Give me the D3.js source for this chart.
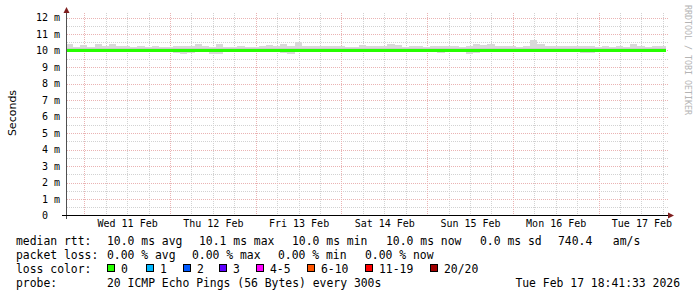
<!doctype html>
<html lang="en">
<head>
<meta charset="UTF-8">
<title>Smokeping</title>
<style>
  body { margin: 0; background: #fff; }
  svg { display: block; }
  text { font-family: "DejaVu Sans Mono", monospace; fill: #000; white-space: pre; }
  .grid line { shape-rendering: crispEdges; stroke-dasharray: 1,1; }
</style>
</head>
<body>
<div id="chart"></div>
<script src="https://d3js.org/d3.v7.min.js"></script>
<script>
  // time range of the graph (one week, 2 hour consolidation steps)
  const start = new Date(2026, 1, 10, 18, 53)
  const end = new Date(2026, 1, 17, 18, 53)
  const stepHours = 2

  // highest ping per step (ms)
  const smokeHi = [
    10.38, 10.20, 10.36, 10.20, 10.40, 10.30, 10.40, 10.30, 10.30, 10.20, 10.30, 10.20, 10.30, 10.22,
    10.20, 10.25, 10.30, 10.30, 10.40, 10.30, 10.20, 10.40, 10.20, 10.20, 10.30, 10.20, 10.20,
    10.25, 10.35, 10.25, 10.38, 10.30, 10.50, 10.25, 10.25, 10.30, 10.25, 10.30, 10.30, 10.20, 10.20,
    10.35, 10.30, 10.25, 10.25, 10.40, 10.35, 10.20, 10.30, 10.30, 10.20, 10.25, 10.25, 10.30, 10.25,
    10.22, 10.25, 10.40, 10.35, 10.38, 10.25, 10.25, 10.30, 10.20, 10.25, 10.64, 10.38, 10.30, 10.30,
    10.30, 10.30, 10.25, 10.30, 10.28, 10.20, 10.25, 10.22, 10.30, 10.22, 10.38, 10.30, 10.22, 10.25, 10.25
  ]
  // lowest ping per step (ms)
  const smokeLo = [
    9.93, 9.93, 9.93, 9.93, 9.93, 9.93, 9.93, 9.93, 9.93, 9.93, 9.93, 9.93, 9.93, 9.93,
    9.93, 9.82, 9.80, 9.82, 9.93, 9.93, 9.80, 9.78, 9.93, 9.93, 9.93, 9.93, 9.93,
    9.93, 9.93, 9.93, 9.82, 9.80, 9.93, 9.93, 9.93, 9.93, 9.93, 9.93, 9.93, 9.93, 9.93,
    9.93, 9.93, 9.93, 9.93, 9.93, 9.93, 9.93, 9.93, 9.93, 9.93, 9.93, 9.82, 9.93, 9.93,
    9.93, 9.80, 9.82, 9.93, 9.93, 9.93, 9.93, 9.93, 9.93, 9.93, 9.93, 9.93, 9.93, 9.93,
    9.93, 9.93, 9.93, 9.82, 9.84, 9.93, 9.93, 9.93, 9.93, 9.93, 9.93, 9.93, 9.93, 9.93, 9.93
  ]
  // pings close to the median (darker smoke), lower edge
  const smokeMidLo = [
    9.97, 9.97, 9.97, 9.90, 9.97, 9.97, 9.97, 9.97, 9.97, 9.97, 9.97, 9.90, 9.97, 9.97,
    9.97, 9.97, 9.97, 9.90, 9.90, 9.97, 9.90, 9.97, 9.97, 9.97, 9.97, 9.97, 9.97,
    9.97, 9.97, 9.97, 9.97, 9.90, 9.97, 9.97, 9.97, 9.97, 9.97, 9.97, 9.97, 9.97, 9.97,
    9.97, 9.97, 9.97, 9.97, 9.97, 9.97, 9.97, 9.97, 9.97, 9.97, 9.97, 9.90, 9.97, 9.97,
    9.97, 9.90, 9.97, 9.97, 9.97, 9.97, 9.97, 9.97, 9.97, 9.97, 9.90, 9.97, 9.97, 9.97,
    9.97, 9.97, 9.97, 9.90, 9.97, 9.97, 9.97, 9.97, 9.97, 9.97, 9.97, 9.97, 9.97, 9.97, 9.97
  ]
  // inner smoke band top (ms)
  const innerTop = 10.14
  // median rtt per step (ms)
  const median = [
    10.0, 10.0, 10.0, 10.0, 10.0, 10.0, 10.0, 10.0, 10.0, 10.0, 10.0, 10.0, 10.0, 10.0,
    10.0, 10.0, 10.0, 10.0, 10.0, 10.0, 10.0, 10.0, 10.0, 10.0, 10.0, 10.0, 10.0,
    10.0, 10.0, 10.0, 10.0, 10.0, 10.0, 10.0, 10.0, 10.0, 10.0, 10.0, 10.0, 10.0, 10.0,
    10.0, 10.0, 10.0, 10.0, 10.0, 10.0, 10.0, 10.0, 10.0, 10.0, 10.0, 10.0, 10.0, 10.0,
    10.0, 10.0, 10.0, 10.0, 10.0, 10.0, 10.0, 10.0, 10.0, 10.0, 10.0, 10.0, 10.0, 10.0,
    10.0, 10.0, 10.0, 10.0, 10.0, 10.0, 10.0, 10.0, 10.0, 10.0, 10.0, 10.0, 10.0, 10.0, 10.0
  ]

  const yTicks = [0, 1, 2, 3, 4, 5, 6, 7, 8, 9, 10, 11, 12]

  const lossLabels = ['0', '1', '2', '3', '4-5', '6-10', '11-19', '20/20']
  const lossColors = ['#26ff00', '#00b8ff', '#0059ff', '#5e00ff', '#ff00ff', '#ff5500', '#ff0000', '#a00000']
  const lossBoxX = [107, 146, 183, 219, 256, 307, 365, 430]

  const rttLine = ['median rtt:', '10.0 ms avg', '10.1 ms max', '10.0 ms min', '10.0 ms now', '0.0 ms sd', '740.4   am/s']
  const rttX = [16, 107, 199, 292, 386, 480, 558]
  const lossLine = ['packet loss:', '0.00 % avg', '0.00 % max', '0.00 % min', '0.00 % now']
  const lossX = [16, 107, 192, 278, 365]
  const probeText = '20 ICMP Echo Pings (56 Bytes) every 300s'
  const stampText = 'Tue Feb 17 18:41:33 2026'

  const width = 697
  const height = 297

  const svg = d3.select('#chart')
    .append('svg')
    .attr('width', width)
    .attr('height', height)

  const x = d3.scaleTime().domain([start, end]).range([66, 666])
  const y = d3.scaleLinear().domain([0, 12]).range([215.5, 17.5])
  const px = v => Math.round(v) + 0.5

  const binStart = i => d3.timeHour.offset(start, i * stepHours)

  // grid
  const grid = svg.append('g').attr('class', 'grid')
  grid.selectAll('.hmin')
    .data(d3.range(0.5, 12, 1))
    .enter().append('line')
    .attr('x1', 67).attr('x2', 668)
    .attr('y1', d => px(y(d))).attr('y2', d => px(y(d)))
    .attr('stroke', '#d2d2d2')
  grid.selectAll('.vmin')
    .data(d3.timeHour.every(6).range(start, end))
    .enter().append('line')
    .attr('x1', d => px(x(d))).attr('x2', d => px(x(d)))
    .attr('y1', 13).attr('y2', 215)
    .attr('stroke', '#d2d2d2')
  grid.selectAll('.hmaj')
    .data(yTicks.slice(1))
    .enter().append('line')
    .attr('x1', 67).attr('x2', 668)
    .attr('y1', d => px(y(d))).attr('y2', d => px(y(d)))
    .attr('stroke', '#eab3b3')
  grid.selectAll('.vmaj')
    .data(d3.timeDay.range(start, end))
    .enter().append('line')
    .attr('x1', d => px(x(d))).attr('x2', d => px(x(d)))
    .attr('y1', 13).attr('y2', 215)
    .attr('stroke', '#eab3b3')

  // smoke
  const bins = d3.range(smokeHi.length)
  const binX = i => x(binStart(i))
  const binW = i => x(binStart(i + 1)) - x(binStart(i))
  svg.append('g').selectAll('rect')
    .data(bins)
    .enter().append('rect')
    .attr('x', binX)
    .attr('width', binW)
    .attr('y', i => y(smokeHi[i]))
    .attr('height', i => y(smokeLo[i]) - y(smokeHi[i]))
    .attr('fill', '#d9d9d9')
    .attr('shape-rendering', 'crispEdges')
  svg.append('g').selectAll('rect')
    .data(bins)
    .enter().append('rect')
    .attr('x', binX)
    .attr('width', binW)
    .attr('y', i => y(Math.min(innerTop, smokeHi[i])))
    .attr('height', i => y(9.96) - y(Math.min(innerTop, smokeHi[i])))
    .attr('fill', '#cacaca')
    .attr('shape-rendering', 'crispEdges')
  svg.append('g').selectAll('rect')
    .data(bins)
    .enter().append('rect')
    .attr('x', binX)
    .attr('width', binW)
    .attr('y', y(10.05))
    .attr('height', i => y(smokeMidLo[i]) - y(10.05))
    .attr('fill', '#9a9a9a')
    .attr('shape-rendering', 'crispEdges')

  // median line
  const medianPts = median.map((v, i) => [binStart(i), v]).concat([[binStart(median.length), median[median.length - 1]]])
  svg.append('path')
    .datum(medianPts)
    .attr('fill', 'none')
    .attr('stroke', lossColors[0])
    .attr('stroke-width', 3)
    .attr('shape-rendering', 'crispEdges')
    .attr('d', d3.line().x(d => x(d[0])).y(d => y(d[1])).curve(d3.curveStepAfter))

  // axes
  svg.append('line').attr('x1', 66.5).attr('x2', 66.5).attr('y1', 12).attr('y2', 219).attr('stroke', '#505050')
  svg.append('line').attr('x1', 62).attr('x2', 669).attr('y1', 215.5).attr('y2', 215.5).attr('stroke', '#000')
  svg.append('path').attr('d', 'M63.5,13L69.5,13L66.5,7Z').attr('fill', '#7f1f1f')
  svg.append('path').attr('d', 'M668,212.5L668,218.5L674,215.5Z').attr('fill', '#7f1f1f')

  const yAxis = d3.axisLeft(y)
    .tickValues(yTicks)
    .tickSize(0)
    .tickPadding(6)
    .tickFormat(d => d === 0 ? '0  ' : d + ' m')
  svg.append('g')
    .attr('transform', 'translate(66, 0)')
    .call(yAxis)
    .call(g => g.select('.domain').remove())
    .selectAll('text')
    .attr('font-family', '"DejaVu Sans Mono", monospace')
    .attr('font-size', 10)
    .attr('fill', '#000')

  const xAxis = d3.axisBottom(x)
    .tickValues(d3.timeDay.range(start, end).map(d => d3.timeHour.offset(d, 12)))
    .tickSize(0)
    .tickPadding(4)
    .tickFormat(d3.timeFormat('%a %d %b'))
  svg.append('g')
    .attr('transform', 'translate(0, 216)')
    .call(xAxis)
    .call(g => g.select('.domain').remove())
    .selectAll('text')
    .attr('font-family', '"DejaVu Sans Mono", monospace')
    .attr('font-size', 10)
    .attr('fill', '#000')

  svg.append('text')
    .attr('transform', 'translate(16, 113) rotate(-90)')
    .attr('text-anchor', 'middle')
    .style('font-family', '"DejaVu Sans", sans-serif')
    .style('font-size', '11px')
    .text('Seconds')

  svg.append('text')
    .attr('transform', 'translate(685, 5) rotate(90)')
    .style('font-size', '8.3px')
    .style('fill', '#b4b4b4')
    .text('RRDTOOL / TOBI OETIKER')

  // legend
  const legend = svg.append('g').style('font-size', '11.4px')
  legend.selectAll('.rtt')
    .data(rttLine)
    .enter().append('text')
    .attr('x', (d, i) => rttX[i]).attr('y', 245)
    .text(d => d)
  legend.selectAll('.loss')
    .data(lossLine)
    .enter().append('text')
    .attr('x', (d, i) => lossX[i]).attr('y', 259)
    .text(d => d)
  legend.append('text').attr('x', 16).attr('y', 273).text('loss color:')
  const items = legend.selectAll('.item')
    .data(lossLabels)
    .enter().append('g')
    .attr('transform', (d, i) => `translate(${lossBoxX[i]}, 0)`)
  items.append('rect')
    .attr('x', 0.5).attr('y', 264.5).attr('width', 7).attr('height', 7)
    .attr('fill', (d, i) => lossColors[i])
    .attr('stroke', '#000')
  items.append('text')
    .attr('x', 14).attr('y', 273)
    .text(d => d)
  legend.append('text').attr('x', 16).attr('y', 287).text('probe:')
  legend.append('text').attr('x', 107).attr('y', 287).text(probeText)
  legend.append('text').attr('x', 680).attr('y', 287).attr('text-anchor', 'end').text(stampText)
</script>
</body>
</html>
